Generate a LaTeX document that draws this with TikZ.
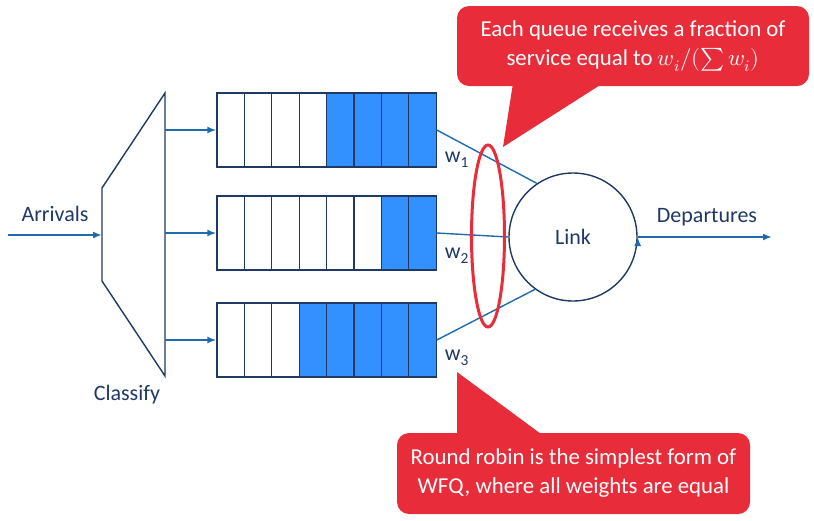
\documentclass[tikz,border=0pt]{standalone}
\usepackage{fontspec}
\usepackage{unicode-math}
\setmainfont{Carlito}
\setmathfont{Latin Modern Math}
\usepackage{tikz}
\usetikzlibrary{positioning,shapes.geometric,arrows.meta}

\definecolor{navy}{HTML}{1F3864}
\definecolor{flowblue}{HTML}{1F6BAE}
\definecolor{qblue}{HTML}{3391FF}
\definecolor{callred}{HTML}{E82C3A}

\begin{document}
\begin{tikzpicture}[x=1pt,y=-1pt,
	every node/.style={text=navy,font=\fontsize{22}{29}\selectfont},
	cell/.style={draw=navy,line width=1.2pt,minimum width=27.4pt,minimum height=74pt,inner sep=0pt},
	flow/.style={draw=flowblue,line width=1.8pt},
	feed/.style={draw=flowblue,line width=1.4pt},
	tip/.style={-{Latex[length=9pt,width=7pt]}},
	callbox/.style={fill=callred,text=white,rounded corners=12pt,align=center,
		font=\fontsize{22.8}{29}\selectfont,minimum width=352pt,minimum height=80pt,inner sep=0pt}]
	\useasboundingbox (0,0) rectangle (814,520);

	% classifier
	\draw[navy,line width=1.4pt] (102,188) -- (165,93) -- (165,376) -- (102,281) -- cycle;
	\coordinate (cls_in) at (102,235);
	\coordinate (cls_1) at (165,130);
	\coordinate (cls_2) at (165,233);
	\coordinate (cls_3) at (165,340);
	\coordinate (arr) at (8,235);
	\node (arrivals) at (55,214) {Arrivals};
	\node (classify) at (127,395) {Classify};

	% queues
	\foreach \q/\y/\nw in {1/130/4,2/233/6,3/340/3}{
		\foreach \i in {1,...,8}{
			\ifnum\i>\nw\relax\def\cellfill{qblue}\else\def\cellfill{white}\fi
			\node[cell,fill=\cellfill] (c_\q_\i) at ({230.7+27.4*(\i-1)},\y) {};
		}
	}

	\node[circle,draw=navy,line width=1.4pt,minimum size=128pt] (link) at (573,237) {Link};
	\coordinate (dep) at (772,237);
	\node (departures) at (707,217) {Departures};

	\node (w_1) at (457,160) {w\textsubscript{1}};
	\node (w_2) at (457,256) {w\textsubscript{2}};
	\node (w_3) at (457,358) {w\textsubscript{3}};

	\path[flow,tip]
	(arr) edge (cls_in)
	(cls_1) edge (c_1_1.west)
	(cls_2) edge (c_2_1.west)
	(cls_3) edge (c_3_1.west)
	(link.east) edge (dep);

	\path[feed]
	(c_1_8.east) edge (link.124)
	(c_2_8.east) edge (link.west)
	(c_3_8.east) edge (link.234);

	\node[ellipse,draw=callred,line width=3pt,minimum width=33pt,minimum height=182pt] (sel) at (488,236) {};

	% callouts
	\node[callbox] (note_1) at (633,46) {Each queue receives a fraction of\\service equal to $w_i/(\sum w_i)$};
	\coordinate (tip_1) at (503,147);
	\fill[callred] ([xshift=-120pt,yshift=3pt]note_1.south) -- (tip_1) -- ([xshift=-30pt,yshift=3pt]note_1.south) -- cycle;

	\node[callbox,minimum width=353pt,minimum height=81pt] (note_2) at (573.5,473.5) {Round robin is the simplest form of\\WFQ, where all weights are equal};
	\coordinate (tip_2) at (457,372);
	\fill[callred] ([xshift=-116.5pt,yshift=-3pt]note_2.north) -- (tip_2) -- ([xshift=-30pt,yshift=-3pt]note_2.north) -- cycle;
\end{tikzpicture}
\end{document}
